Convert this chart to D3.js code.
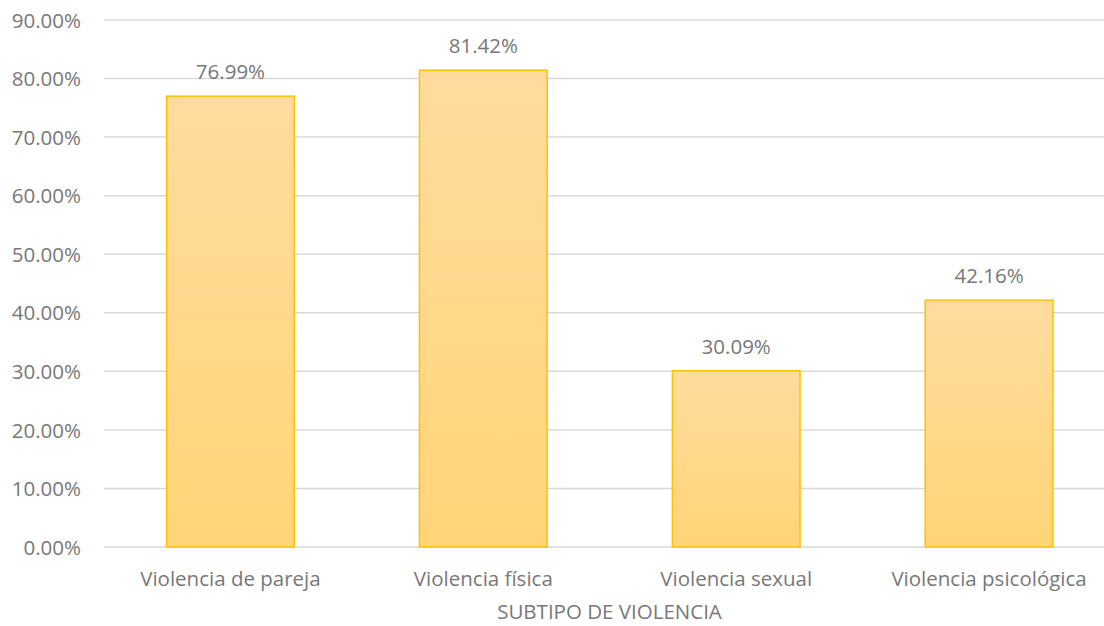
<!DOCTYPE html>
<html>
<head>
<meta charset="utf-8">
<script src="https://cdn.jsdelivr.net/npm/d3@7"></script>
<style>
  body { margin: 0; background: #fff; }
  text { font-family: "Open Sans", "Noto Sans", sans-serif; fill: #787878; }
</style>
</head>
<body>
<svg id="chart" width="1104" height="626"></svg>
<script>
"use strict";

var categories = ["Violencia de pareja", "Violencia física", "Violencia sexual", "Violencia psicológica"];
var values = [76.99, 81.42, 30.09, 42.16];
var yTicks = [0, 10, 20, 30, 40, 50, 60, 70, 80, 90];
var xTitle = "SUBTIPO DE VIOLENCIA";

var fontSize = 20.5;
var svg = d3.select("#chart");

var x = d3.scaleBand()
  .domain(categories)
  .range([104, 1115.5])
  .paddingInner(0.495)
  .paddingOuter(0.2475);

var y = d3.scaleLinear()
  .domain([0, 90])
  .range([547, 20]);

// gradient for the bars
var defs = svg.append("defs");
var grad = defs.append("linearGradient")
  .attr("id", "barFill")
  .attr("x1", 0).attr("y1", 0).attr("x2", 0).attr("y2", 1);
grad.append("stop").attr("offset", "0%").attr("stop-color", "#ffdc9e");
grad.append("stop").attr("offset", "100%").attr("stop-color", "#ffd577");

// gridlines
svg.append("g")
  .selectAll("line")
  .data(yTicks)
  .join("line")
    .attr("x1", 104)
    .attr("x2", 1104)
    .attr("y1", function (d) { return y(d); })
    .attr("y2", function (d) { return y(d); })
    .attr("stroke", "#d9d9d9")
    .attr("stroke-width", 1.5);

// y axis labels
var yAxis = d3.axisLeft(y)
  .tickValues(yTicks)
  .tickSize(0)
  .tickPadding(0)
  .tickFormat(function (d) { return d3.format(".2f")(d) + "%"; });

svg.append("g")
  .attr("transform", "translate(81,0)")
  .call(yAxis)
  .call(function (g) { g.select(".domain").remove(); })
  .selectAll("text")
    .attr("font-size", fontSize)
    .attr("font-family", null)
    .attr("fill", null)
    .attr("dy", "0.35em");

// bars
svg.append("g")
  .selectAll("rect")
  .data(values)
  .join("rect")
    .attr("x", function (d, i) { return x(categories[i]); })
    .attr("width", x.bandwidth())
    .attr("y", function (d) { return y(d); })
    .attr("height", function (d) { return y(0) - y(d); })
    .attr("fill", "url(#barFill)")
    .attr("stroke", "#ffc000")
    .attr("stroke-width", 1.5);

// value labels
svg.append("g")
  .selectAll("text")
  .data(values)
  .join("text")
    .attr("x", function (d, i) { return x(categories[i]) + x.bandwidth() / 2; })
    .attr("y", function (d) { return y(d) - 17; })
    .attr("text-anchor", "middle")
    .attr("font-size", fontSize)
    .text(function (d) { return d3.format(".2f")(d) + "%"; });

// x axis labels
var xAxis = d3.axisBottom(x).tickSize(0).tickPadding(0);
svg.append("g")
  .attr("transform", "translate(0,547)")
  .call(xAxis)
  .call(function (g) { g.select(".domain").remove(); })
  .selectAll("text")
    .attr("font-size", fontSize)
    .attr("font-family", null)
    .attr("fill", null)
    .attr("dy", null)
    .attr("y", 39);

svg.append("text")
  .attr("x", 609.5)
  .attr("y", 619)
  .attr("text-anchor", "middle")
  .attr("font-size", fontSize)
  .text(xTitle);
</script>
</body>
</html>
